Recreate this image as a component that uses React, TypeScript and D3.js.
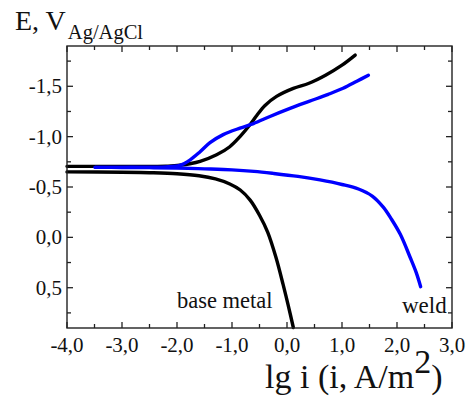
import React from "react";
import * as d3 from "d3";

const xTicks = [-4, -3, -2, -1, 0, 1, 2, 3];
const xTickLabels = ["-4,0", "-3,0", "-2,0", "-1,0", "0,0", "1,0", "2,0", "3,0"];
const yTicks = [-1.5, -1.0, -0.5, 0.0, 0.5];
const yTickLabels = ["-1,5", "-1,0", "-0,5", "0,0", "0,5"];

const baseCathodicX = [-4.0, -3.0, -2.5, -2.2, -1.95, -1.58, -1.28, -1.04, -0.855, -0.67, -0.55, -0.4, -0.19, 0.115, 0.4, 0.7, 1.0, 1.24];
const baseCathodicE = [-0.705, -0.705, -0.705, -0.707, -0.716, -0.755, -0.82, -0.9, -1.0, -1.12, -1.21, -1.31, -1.4, -1.48, -1.53, -1.61, -1.71, -1.81];

const baseAnodicX = [-4.0, -3.0, -2.5, -2.0, -1.6, -1.3, -1.04, -0.85, -0.67, -0.5, -0.35, -0.2, -0.07, 0.02, 0.115];
const baseAnodicE = [-0.65, -0.647, -0.642, -0.632, -0.612, -0.58, -0.53, -0.47, -0.37, -0.22, -0.05, 0.2, 0.47, 0.67, 0.895];

const weldCathodicX = [-3.49, -3.0, -2.5, -2.2, -1.95, -1.76, -1.58, -1.4, -1.16, -0.855, -0.61, -0.31, 0.055, 0.4, 0.75, 1.02, 1.27, 1.48];
const weldCathodicE = [-0.695, -0.695, -0.697, -0.7, -0.715, -0.77, -0.85, -0.94, -1.02, -1.085, -1.13, -1.2, -1.28, -1.35, -1.42, -1.48, -1.55, -1.61];

const weldAnodicX = [-3.49, -3.0, -2.5, -2.0, -1.5, -1.0, -0.6, -0.25, 0.2, 0.6, 1.0, 1.3, 1.55, 1.75, 1.9, 2.06, 2.24, 2.35, 2.43];
const weldAnodicE = [-0.695, -0.694, -0.692, -0.688, -0.68, -0.67, -0.655, -0.635, -0.605, -0.57, -0.525, -0.48, -0.41, -0.3, -0.18, -0.03, 0.2, 0.35, 0.49];

const W = 472;
const H = 396;
const left = 67;
const right = 452;
const top = 46;
const bottom = 328;
const font = "Liberation Serif, Times New Roman, serif";

export default function App() {
  const x = d3.scaleLinear().domain([-4, 3]).range([left, right]);
  const y = d3.scaleLinear().domain([-1.9, 0.9]).range([top, bottom]);
  const line = d3
    .line<[number, number]>()
    .x((d) => x(d[0]))
    .y((d) => y(d[1]))
    .curve(d3.curveCatmullRom.alpha(0.5));
  const zip = (a: number[], b: number[]) => a.map((v, i) => [v, b[i]] as [number, number]);

  const xMinor = d3.range(-3.5, 3, 1);
  const yMinor = [-1.75, -1.25, -0.75, -0.25, 0.25, 0.75];
  const maj = 6;
  const mnr = 4;
  const axisColor = "#222";

  const series = [
    { x: baseCathodicX, e: baseCathodicE, c: "#000" },
    { x: baseAnodicX, e: baseAnodicE, c: "#000" },
    { x: weldAnodicX, e: weldAnodicE, c: "#0000ff" },
    { x: weldCathodicX, e: weldCathodicE, c: "#0000ff" },
  ];

  return (
    <svg width={W} height={H} style={{ position: "absolute", left: 0, top: 0, background: "#fff", fontFamily: font }}>
      <rect x={0} y={0} width={W} height={H} fill="#fff" />
      {series.map((s, i) => (
        <path key={i} d={line(zip(s.x, s.e)) || ""} fill="none" stroke={s.c} strokeWidth={3.4} strokeLinecap="round" strokeLinejoin="round" />
      ))}
      <rect x={left} y={top} width={right - left} height={bottom - top} fill="none" stroke={axisColor} strokeWidth={1.4} />
      {xTicks.map((t) => (
        <g key={"xt" + t}>
          <line x1={x(t)} x2={x(t)} y1={bottom} y2={bottom - maj} stroke={axisColor} strokeWidth={1.3} />
          <line x1={x(t)} x2={x(t)} y1={top} y2={top + maj} stroke={axisColor} strokeWidth={1.3} />
        </g>
      ))}
      {xMinor.map((t) => (
        <g key={"xm" + t}>
          <line x1={x(t)} x2={x(t)} y1={bottom} y2={bottom - mnr} stroke={axisColor} strokeWidth={1.3} />
          <line x1={x(t)} x2={x(t)} y1={top} y2={top + mnr} stroke={axisColor} strokeWidth={1.3} />
        </g>
      ))}
      {yTicks.map((t) => (
        <g key={"yt" + t}>
          <line x1={left} x2={left + maj} y1={y(t)} y2={y(t)} stroke={axisColor} strokeWidth={1.3} />
          <line x1={right} x2={right - maj} y1={y(t)} y2={y(t)} stroke={axisColor} strokeWidth={1.3} />
        </g>
      ))}
      {yMinor.map((t) => (
        <g key={"ym" + t}>
          <line x1={left} x2={left + mnr} y1={y(t)} y2={y(t)} stroke={axisColor} strokeWidth={1.3} />
          <line x1={right} x2={right - mnr} y1={y(t)} y2={y(t)} stroke={axisColor} strokeWidth={1.3} />
        </g>
      ))}
      {xTicks.map((t, i) => (
        <text key={"xl" + t} x={x(t)} y={351.5} fontSize={21} textAnchor="middle" fill="#111">
          {xTickLabels[i]}
        </text>
      ))}
      {yTicks.map((t, i) => (
        <text key={"yl" + t} x={left - 5} y={y(t) + 7} fontSize={21} textAnchor="end" fill="#111">
          {yTickLabels[i]}
        </text>
      ))}
      <text x={15} y={30} fontSize={28} fill="#111">
        E, V
        <tspan fontSize={20.5} dy={8.5} dx={2}>Ag/AgCl</tspan>
      </text>
      <text x={177} y={308} fontSize={22.5} fill="#111">base metal</text>
      <text x={402} y={312.5} fontSize={23} fill="#111">weld</text>
      <text x={265} y={388} fontSize={34} fill="#111">
        lg i (i, A/m
        <tspan dy={-15}>2</tspan>
        <tspan dy={15}>)</tspan>
      </text>
    </svg>
  );
}
